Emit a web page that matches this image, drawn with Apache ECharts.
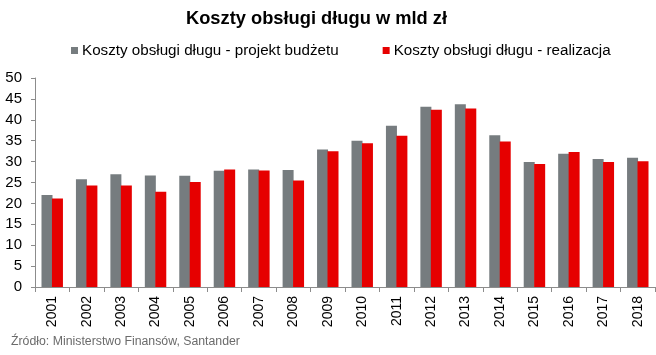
<!DOCTYPE html>
<html><head><meta charset="utf-8">
<script src="https://cdn.jsdelivr.net/npm/echarts@6/dist/echarts.min.js"></script>
<style>html,body{margin:0;padding:0;background:#fff}#c{width:656px;height:355px}</style>
</head><body><div id="c"></div>
<script>
var categories = ['2001','2002','2003','2004','2005','2006','2007','2008','2009','2010','2011','2012','2013','2014','2015','2016','2017','2018'];
var projekt = [22.0,25.8,27.0,26.7,26.6,27.8,28.1,28.0,32.9,35.0,38.6,43.1,43.7,36.3,29.9,31.9,30.6,30.9];
var realizacja = [21.2,24.3,24.3,22.8,25.1,28.1,27.9,25.5,32.5,34.4,36.2,42.4,42.7,34.8,29.4,32.3,29.9,30.1];
var yTicks = [0,5,10,15,20,25,30,35,40,45,50];
var chart = echarts.init(document.getElementById('c'), null, {renderer:'canvas'});
var ff = '"Liberation Sans", Arial, sans-serif';
chart.setOption({
  animation:false,
  textStyle:{fontFamily:ff},
  title:{text:'Koszty obsługi długu w mld zł', left:181, top:5,
    textStyle:{fontFamily:ff, fontSize:18.3, fontWeight:'bold', color:'#000'}},
  legend:{top:38, left:66, itemWidth:7, itemHeight:7, itemGap:44, icon:'rect',
    textStyle:{fontFamily:ff, fontSize:15.2, color:'#000', padding:[0,0,0,-1]},
    data:['Koszty obsługi długu - projekt budżetu','Koszty obsługi długu - realizacja']},
  grid:{left:35, right:1, top:78, bottom:68},
  xAxis:{type:'category', data:categories,
    axisLine:{lineStyle:{color:'#8c8c8c'}},
    axisTick:{show:true, length:5, lineStyle:{color:'#8c8c8c'}},
    axisLabel:{rotate:90, fontSize:14, color:'#000', margin:9, fontFamily:ff}},
  yAxis:{type:'value', min:0, max:50, interval:5,
    axisLine:{show:true, lineStyle:{color:'#8c8c8c'}},
    axisTick:{show:true, length:4, lineStyle:{color:'#8c8c8c'}},
    splitLine:{show:false},
    axisLabel:{fontSize:15, color:'#000', margin:13, fontFamily:ff,
      formatter:function(v){return yTicks.indexOf(v)>=0?String(v):'';}}},
  series:[
    {name:'Koszty obsługi długu - projekt budżetu', type:'bar', data:projekt, barWidth:11, barGap:'-5%',
      itemStyle:{color:'#767c7f'}},
    {name:'Koszty obsługi długu - realizacja', type:'bar', data:realizacja, barWidth:11, barGap:'-5%',
      itemStyle:{color:'#e60000'}}
  ],
  graphic:[{type:'text', left:11, top:336, style:{text:'Źródło: Ministerstwo Finansów, Santander',
    fill:'#6b6b6b', font:'12.3px '+ff}}]
});
</script></body></html>
